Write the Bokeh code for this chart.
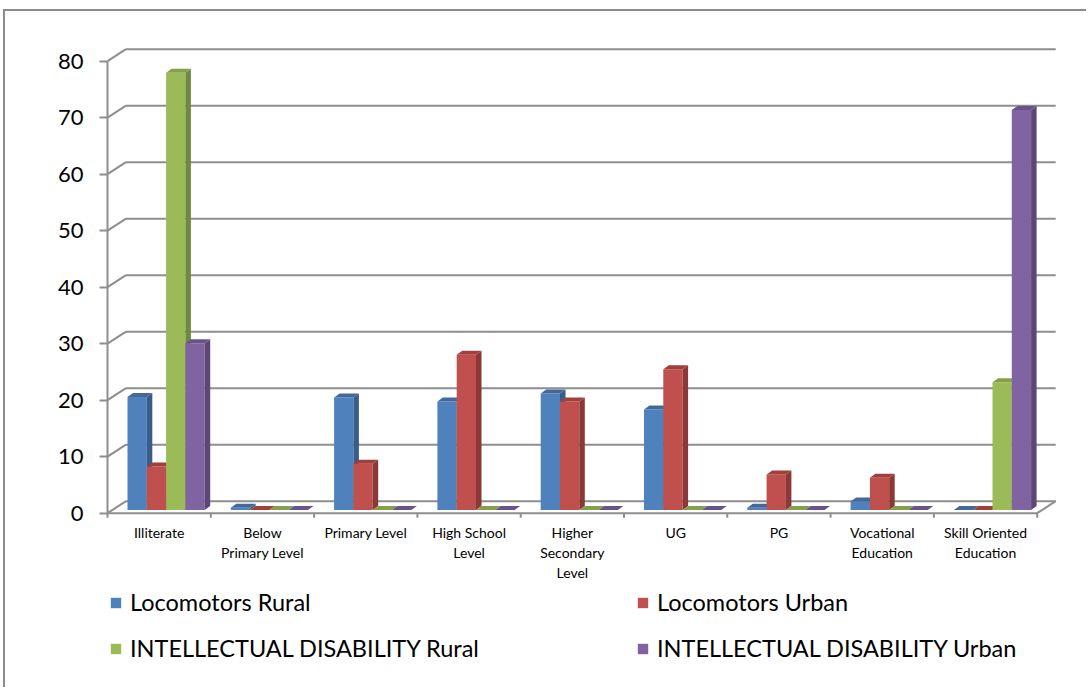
from bokeh.plotting import figure
from bokeh.models import Range1d, FixedTicker, Legend, LegendItem
from bokeh.core.properties import value
from bokeh.embed import file_html
from bokeh.resources import INLINE

# ---------------- data ----------------
categories = ["Illiterate", "Below\nPrimary Level", "Primary Level", "High School\nLevel",
              "Higher\nSecondary\nLevel", "UG", "PG", "Vocational\nEducation",
              "Skill Oriented\nEducation"]
series_names = ["Locomotors Rural", "Locomotors Urban",
                "INTELLECTUAL DISABILITY Rural", "INTELLECTUAL DISABILITY Urban"]
locomotors_rural = [20.0, 0.4, 19.9, 19.2, 20.6, 17.8, 0.4, 1.5, 0.0]
locomotors_urban = [7.7, 0.0, 8.2, 27.5, 19.2, 24.9, 6.3, 5.7, 0.0]
intellectual_rural = [77.4, 0.0, 0.0, 0.0, 0.0, 0.0, 0.0, 0.0, 22.6]
intellectual_urban = [29.5, 0.0, 0.0, 0.0, 0.0, 0.0, 0.0, 0.0, 70.8]
y_ticks = [0, 10, 20, 30, 40, 50, 60, 70, 80]

series_values = [locomotors_rural, locomotors_urban, intellectual_rural, intellectual_urban]
front_colors = ["#4F81BD", "#C0504D", "#9BBB59", "#8064A2"]
side_colors = ["#385D8A", "#8C3836", "#71893F", "#5C4776"]
top_colors = ["#41699C", "#A23F3C", "#84A04A", "#6A5388"]

# ---------------- geometry (pixels -> data units) ----------------
PX_X = 103.3          # pixels per category
PX_Y = 5.65           # pixels per value unit
BACK_DX = 18.5 / PX_X
BACK_DY = 12.0 / PX_Y
BAR_W = 19.3 / PX_X
BAR_X0 = 20.0 / PX_X
BAR_BASE = 3.2 / PX_Y
SIDE_DX = 5.5 / PX_X
SIDE_DY = 4.0 / PX_Y
TICK_LEN = 4.5 / PX_Y
GRID_COLOR = "#8E8E8E"
FONT = "Lato"

W, H = 1083, 678
LEFT, RIGHT, TOP, BOTTOM = 99, 23, 29, 0
frame_w = W - LEFT - RIGHT
frame_h = H - TOP - BOTTOM
x0 = -3.0 / PX_X
y_top = (512.7 - 40) / PX_Y
y_bot = y_top - frame_h / PX_Y

n_cat = len(categories)

p = figure(width=W, height=H, x_range=Range1d(x0, x0 + frame_w / PX_X),
           y_range=Range1d(y_bot, y_top), output_backend="svg", toolbar_location=None,
           x_axis_location=None, y_axis_location="left",
           min_border_left=LEFT, min_border_right=RIGHT, min_border_top=TOP,
           min_border_bottom=BOTTOM)
p.styles = {"margin-top": "9px", "margin-left": "3px",
            "border-top": "2px solid #8c8c8c", "border-left": "2px solid #8c8c8c"}
p.title.visible = False
p.xgrid.visible = False
p.ygrid.visible = False
p.outline_line_color = None
p.background_fill_color = "white"
p.border_fill_color = "white"

ax = p.yaxis[0]
ax.ticker = FixedTicker(ticks=y_ticks)
ax.axis_line_color = None
ax.major_tick_in = 3
ax.major_tick_out = 5
ax.major_tick_line_color = GRID_COLOR
ax.major_tick_line_width = 2
ax.minor_tick_line_color = None
ax.major_label_text_font = FONT
ax.major_label_text_font_size = "22px"
ax.major_label_text_color = "#000000"
ax.major_label_standoff = 16

# back wall gridlines and depth diagonals
p.segment(x0=[BACK_DX] * len(y_ticks), y0=[t + BACK_DY for t in y_ticks],
          x1=[n_cat + BACK_DX] * len(y_ticks), y1=[t + BACK_DY for t in y_ticks],
          line_color=GRID_COLOR, line_width=2)
p.segment(x0=[0] * len(y_ticks), y0=y_ticks, x1=[BACK_DX] * len(y_ticks),
          y1=[t + BACK_DY for t in y_ticks], line_color=GRID_COLOR, line_width=2)
# front axis line, floor edge, right floor diagonal
p.segment(x0=[0, 0, n_cat], y0=[0, 0, 0], x1=[0, n_cat, n_cat + BACK_DX],
          y1=[max(y_ticks), 0, BACK_DY], line_color=GRID_COLOR, line_width=2)
# category ticks
p.segment(x0=list(range(n_cat + 1)), y0=[0] * (n_cat + 1), x1=list(range(n_cat + 1)),
          y1=[-TICK_LEN] * (n_cat + 1), line_color=GRID_COLOR, line_width=2)

# bars
front_renderers = []
for s, vals in enumerate(series_values):
    left = [c + BAR_X0 + s * BAR_W for c in range(n_cat)]
    right = [l + BAR_W for l in left]
    bottom = [BAR_BASE] * n_cat
    top = [v + BAR_BASE for v in vals]
    fr = p.quad(left=left, right=right, bottom=bottom, top=top,
                fill_color=front_colors[s], line_color=None)
    front_renderers.append(fr)
    side_xs = [[r, r + SIDE_DX, r + SIDE_DX, r] for r in right]
    side_ys = [[b, b + SIDE_DY, t + SIDE_DY, t] for b, t in zip(bottom, top)]
    p.patches(xs=side_xs, ys=side_ys, fill_color=side_colors[s], line_color=None)
    top_xs = [[l, r, r + SIDE_DX, l + SIDE_DX] for l, r in zip(left, right)]
    top_ys = [[t, t, t + SIDE_DY, t + SIDE_DY] for t in top]
    p.patches(xs=top_xs, ys=top_ys, fill_color=top_colors[s], line_color=None)

# category labels
p.text(x=[c + 0.5 for c in range(n_cat)], y=[-10.5 / PX_Y] * n_cat, text=categories,
       text_align="center", text_baseline="top", text_font=value(FONT),
       text_font_size="14px", text_line_height=1.19, text_color="#000000")

# legends (two columns)
def make_legend(idx, loc):
    lg = Legend(items=[LegendItem(label=series_names[i], renderers=[front_renderers[i]])
                       for i in idx],
                location=loc, orientation="vertical", glyph_width=13, glyph_height=13,
                label_standoff=8, spacing=18, padding=0, margin=0, label_height=27,
                border_line_color=None, background_fill_alpha=0,
                label_text_font=FONT, label_text_font_size="23.5px",
                label_text_color="#000000")
    p.add_layout(lg)
    return lg

make_legend([0, 2], (5, 27))
make_legend([1, 3], (532, 27))

open("out.html", "w").write(file_html(p, INLINE))
